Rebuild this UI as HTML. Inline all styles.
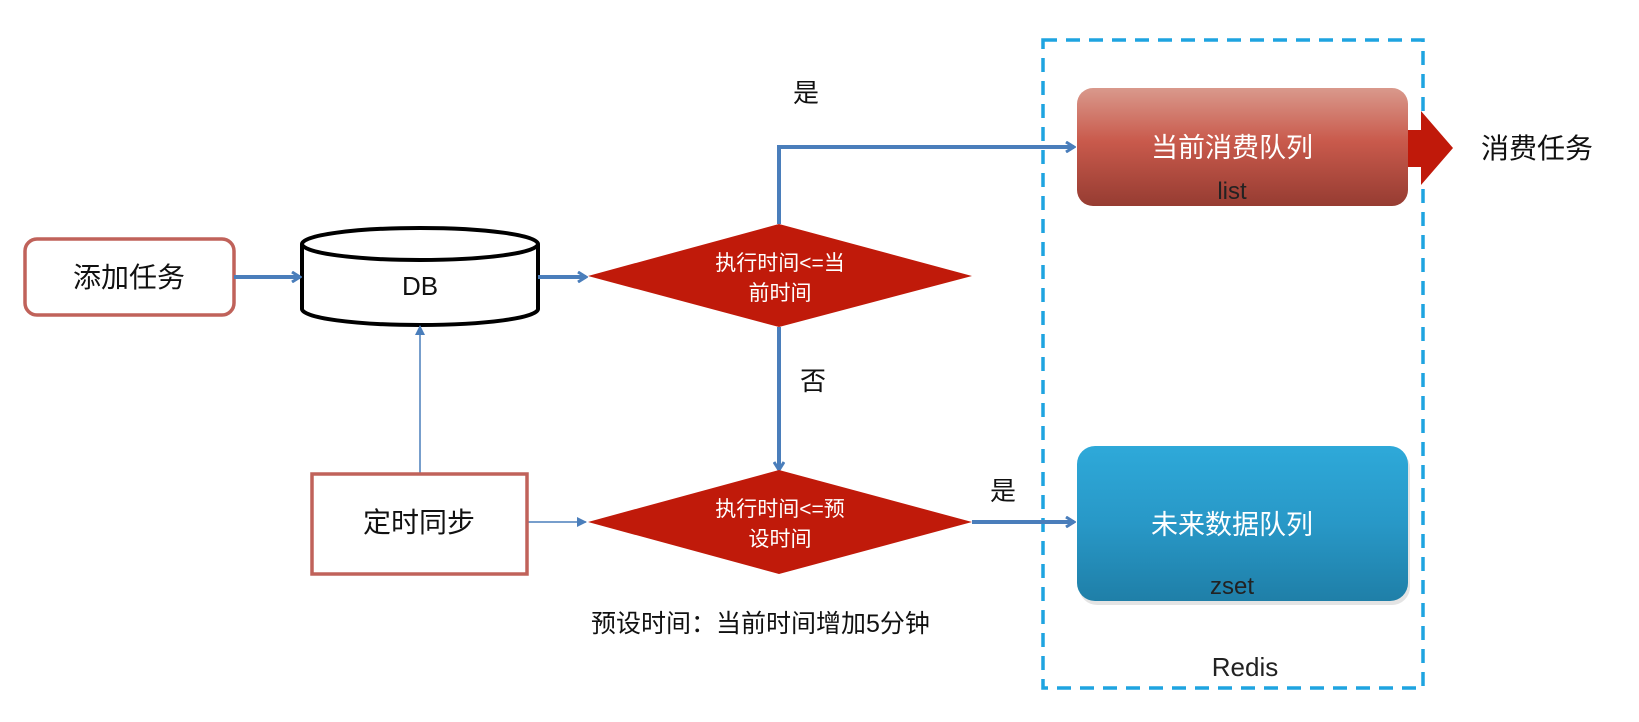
<!DOCTYPE html>
<html><head><meta charset="utf-8"><style>
html,body{margin:0;padding:0;background:#fff;}
svg{display:block;}
text{font-family:"Liberation Sans","Noto Sans CJK SC",sans-serif;}
</style></head><body>
<svg width="1639" height="722" viewBox="0 0 1639 722" xmlns="http://www.w3.org/2000/svg">
<defs>
<linearGradient id="rg" x1="0" y1="0" x2="0" y2="1">
<stop offset="0" stop-color="#d9998c"/><stop offset="0.45" stop-color="#c95a4c"/><stop offset="1" stop-color="#963c32"/>
</linearGradient>
<linearGradient id="bg" x1="0" y1="0" x2="0" y2="1">
<stop offset="0" stop-color="#2ea9d9"/><stop offset="0.5" stop-color="#2898c7"/><stop offset="1" stop-color="#1f7fa8"/>
</linearGradient>
<marker id="ah" markerWidth="12" markerHeight="12" refX="10" refY="6" orient="auto" markerUnits="userSpaceOnUse">
<path d="M2,1 L10,6 L2,11" fill="none" stroke="#4a7ebb" stroke-width="3"/>
</marker>
<marker id="at" markerWidth="10" markerHeight="10" refX="9" refY="5" orient="auto" markerUnits="userSpaceOnUse">
<path d="M0,0 L10,5 L0,10 z" fill="#4a7ebb"/>
</marker>
</defs>

<!-- dashed Redis box -->
<rect x="1043" y="40" width="380" height="648" fill="none" stroke="#1ea4e0" stroke-width="3.5" stroke-dasharray="14,9"/>
<text x="1245" y="676" font-size="26" fill="#222" text-anchor="middle">Redis</text>

<!-- 添加任务 -->
<rect x="25" y="239" width="209" height="76" rx="12" fill="#fff" stroke="#c0625a" stroke-width="3.5"/>
<text x="129" y="287" font-size="28" text-anchor="middle" fill="#111">添加任务</text>

<!-- DB cylinder -->
<path d="M302,244 L302,309 A118,16 0 0 0 538,309 L538,244" fill="#fff" stroke="#000" stroke-width="4"/>
<ellipse cx="420" cy="244" rx="118" ry="16" fill="#fff" stroke="#000" stroke-width="4"/>
<text x="420" y="295" font-size="26" text-anchor="middle" fill="#111">DB</text>

<!-- arrows -->
<line x1="234" y1="277" x2="300" y2="277" stroke="#4a7ebb" stroke-width="4" marker-end="url(#ah)"/>
<line x1="538" y1="277" x2="586" y2="277" stroke="#4a7ebb" stroke-width="4" marker-end="url(#ah)"/>
<line x1="420" y1="473" x2="420" y2="326" stroke="#4a7ebb" stroke-width="1.5" marker-end="url(#at)"/>
<line x1="527" y1="522" x2="586" y2="522" stroke="#4a7ebb" stroke-width="1.5" marker-end="url(#at)"/>
<polyline points="779,224 779,147 1074,147" fill="none" stroke="#4a7ebb" stroke-width="4" marker-end="url(#ah)"/>
<line x1="779" y1="327" x2="779" y2="470" stroke="#4a7ebb" stroke-width="4" marker-end="url(#ah)"/>
<line x1="972" y1="522" x2="1074" y2="522" stroke="#4a7ebb" stroke-width="4" marker-end="url(#ah)"/>

<!-- 定时同步 -->
<rect x="312" y="474" width="215" height="100" fill="#fff" stroke="#c0625a" stroke-width="3.5"/>
<text x="419" y="532" font-size="28" text-anchor="middle" fill="#111">定时同步</text>

<!-- diamonds -->
<polygon points="588,276 779,224 972,276 779,327" fill="#c01a0a"/>
<text x="780" y="270" font-size="21" text-anchor="middle" fill="#fff">执行时间&lt;=当</text>
<text x="780" y="300" font-size="21" text-anchor="middle" fill="#fff">前时间</text>
<polygon points="588,522 779,470 972,522 779,574" fill="#c01a0a"/>
<text x="780" y="516" font-size="21" text-anchor="middle" fill="#fff">执行时间&lt;=预</text>
<text x="780" y="546" font-size="21" text-anchor="middle" fill="#fff">设时间</text>

<!-- labels -->
<text x="806" y="102" font-size="26" text-anchor="middle" fill="#111">是</text>
<text x="813" y="390" font-size="26" text-anchor="middle" fill="#111">否</text>
<text x="1003" y="500" font-size="26" text-anchor="middle" fill="#111">是</text>
<text x="591" y="632" font-size="25" fill="#111">预设时间：当前时间增加5分钟</text>

<!-- red queue -->
<path d="M1408,130 L1421,130 L1421,111 L1453,148 L1421,185 L1421,167 L1408,167 z" fill="#c0190a"/>
<rect x="1077" y="88" width="331" height="118" rx="16" fill="url(#rg)"/>
<text x="1232" y="157" font-size="27" text-anchor="middle" fill="#fff">当前消费队列</text>
<text x="1232" y="199" font-size="24" text-anchor="middle" fill="#222">list</text>
<text x="1481" y="158" font-size="28" fill="#111">消费任务</text>

<!-- blue queue -->
<rect x="1079" y="450" width="331" height="155" rx="18" fill="#bbb" opacity="0.4"/>
<rect x="1077" y="446" width="331" height="155" rx="18" fill="url(#bg)"/>
<text x="1232" y="534" font-size="27" text-anchor="middle" fill="#fff">未来数据队列</text>
<text x="1232" y="594" font-size="24" text-anchor="middle" fill="#222">zset</text>
</svg>
</body></html>
